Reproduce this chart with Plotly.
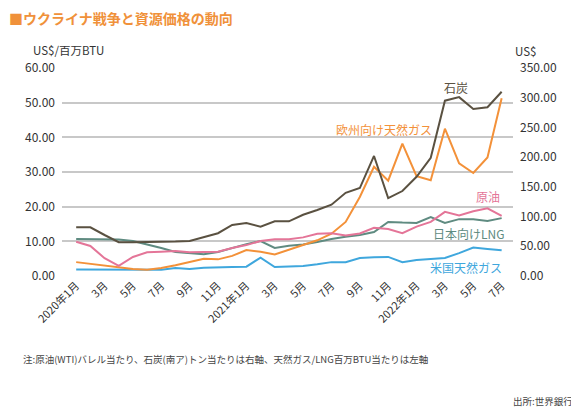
import plotly.graph_objects as go

# ---- data ----
months = [f"{y}-{m:02d}" for y in (2020, 2021, 2022) for m in range(1, 13)][:31]

tick_months = months[::2]
tick_labels = ["2020年1月", "3月", "5月", "7月", "9月", "11月",
               "2021年1月", "3月", "5月", "7月", "9月", "11月",
               "2022年1月", "3月", "5月", "7月"]

# right axis (US$)
coal = [82, 82, 69, 57, 57, 57, 57, 58, 59, 66, 72, 86, 89, 83, 92, 92,
        103, 111, 120, 140, 148, 202, 131, 143, 167, 199, 295, 301, 281, 284, 310]
oil = [57.5, 50.5, 30, 17, 32, 40, 41, 42, 40, 40, 41, 47, 52, 59, 62, 62,
       65, 71, 72, 68, 71.5, 81, 79, 72, 83, 91, 108, 102, 109, 114, 101]

# left axis (US$/MMBtu)
eu_gas = [4.0, 3.5, 3.0, 2.5, 2.0, 1.8, 2.3, 3.1, 4.0, 5.0, 4.8, 5.8, 7.5, 7.0, 6.2, 7.5,
          8.8, 10.3, 12.2, 15.6, 22.8, 31.5, 27.5, 38.2, 28.8, 27.6, 42.5, 32.5, 29.7, 34.2, 51.3]
jp_lng = [10.7, 10.7, 10.7, 10.5, 10.1, 9.2, 8.1, 6.9, 6.6, 6.3, 6.9, 8.1, 9.2, 10.1, 8.1, 8.7,
          9.1, 9.8, 10.7, 11.3, 11.8, 12.7, 15.6, 15.4, 15.3, 17.0, 15.3, 16.4, 16.4, 15.9, 16.7]
us_gas = [1.9, 1.9, 1.9, 1.8, 1.8, 1.7, 1.8, 2.3, 2.0, 2.4, 2.6, 2.6, 2.7, 5.3, 2.6, 2.7,
          2.9, 3.4, 4.0, 4.0, 5.2, 5.4, 5.5, 4.0, 4.6, 4.9, 5.2, 6.6, 8.2, 7.8, 7.4]

FONT = "Noto Sans CJK JP"
C_COAL = "#5a5141"
C_EU = "#f39139"
C_OIL = "#e47598"
C_LNG = "#5f8b81"
C_US = "#3fa7dd"

fig = go.Figure()
fig.add_trace(go.Scatter(x=months, y=us_gas, mode="lines", line=dict(color=C_US, width=2), yaxis="y"))
fig.add_trace(go.Scatter(x=months, y=jp_lng, mode="lines", line=dict(color=C_LNG, width=2), yaxis="y"))
fig.add_trace(go.Scatter(x=months, y=oil, mode="lines", line=dict(color=C_OIL, width=2), yaxis="y2"))
fig.add_trace(go.Scatter(x=months, y=eu_gas, mode="lines", line=dict(color=C_EU, width=2), yaxis="y"))
fig.add_trace(go.Scatter(x=months, y=coal, mode="lines", line=dict(color=C_COAL, width=2), yaxis="y2"))

# plot-area pixel box (reference page coordinates)
L, R, T, B = 62, 513, 68, 276
OFF = 8  # the page body adds an 8px margin around the figure
W, H = 579 - OFF, 411 - OFF


def px(x):
    return (x - L) / (R - L)


def py(y):
    return (B - y) / (B - T)


def ann(text, x, y, color, size, xanchor="center", bold=False):
    if bold:
        text = f"<b>{text}</b>"
    fig.add_annotation(text=text, x=px(x), y=py(y), xref="paper", yref="paper",
                       xanchor=xanchor, yanchor="middle", showarrow=False,
                       font=dict(family=FONT, size=size, color=color))


ann("■ウクライナ戦争と資源価格の動向", 7, 17.5, "#f0913a", 14, "left", bold=True)
ann("US$/百万BTU", 31, 50, "#333333", 11.5, "left")
ann("US$", 513, 51, "#333333", 11.5, "left")
ann("石炭", 456, 87, C_COAL, 12)
ann("欧州向け天然ガス", 384, 129, C_EU, 12)
ann("原油", 488, 196, C_OIL, 12)
ann("日本向けLNG", 468, 233, C_LNG, 12)
ann("米国天然ガス", 466, 267, C_US, 12)
ann("注:原油(WTI)バレル当たり、石炭(南ア)トン当たりは右軸、天然ガス/LNG百万BTU当たりは左軸",
    21, 359, "#444444", 9.5, "left")
ann("出所:世界銀行", 575, 401, "#444444", 9.5, "right")

fig.update_layout(
    width=W, height=H,
    margin=dict(l=L - OFF, r=579 - R, t=T - OFF, b=411 - B, pad=0),
    paper_bgcolor="white", plot_bgcolor="white",
    showlegend=False,
    font=dict(family=FONT, color="#333333"),
    xaxis=dict(type="category", range=[-1, 30.8], tickmode="array",
               tickvals=tick_months, ticktext=tick_labels, tickangle=-45,
               showgrid=False, zeroline=False, showline=False, ticks="",
               tickfont=dict(family=FONT, size=11, color="#333333")),
    yaxis=dict(range=[0, 60], dtick=10, tickformat=".2f", showgrid=True,
               gridcolor="#c8c8c8", gridwidth=1.5, zeroline=False, showline=False,
               ticks="", ticklabelstandoff=6,
               tickfont=dict(family=FONT, size=12, color="#333333")),
    yaxis2=dict(range=[0, 350], dtick=50, tickformat=".2f", overlaying="y", side="right",
                showgrid=False, zeroline=False, showline=False, ticks="",
                ticklabelstandoff=6,
                tickfont=dict(family=FONT, size=12, color="#333333")),
)

fig.write_html("out.html")
